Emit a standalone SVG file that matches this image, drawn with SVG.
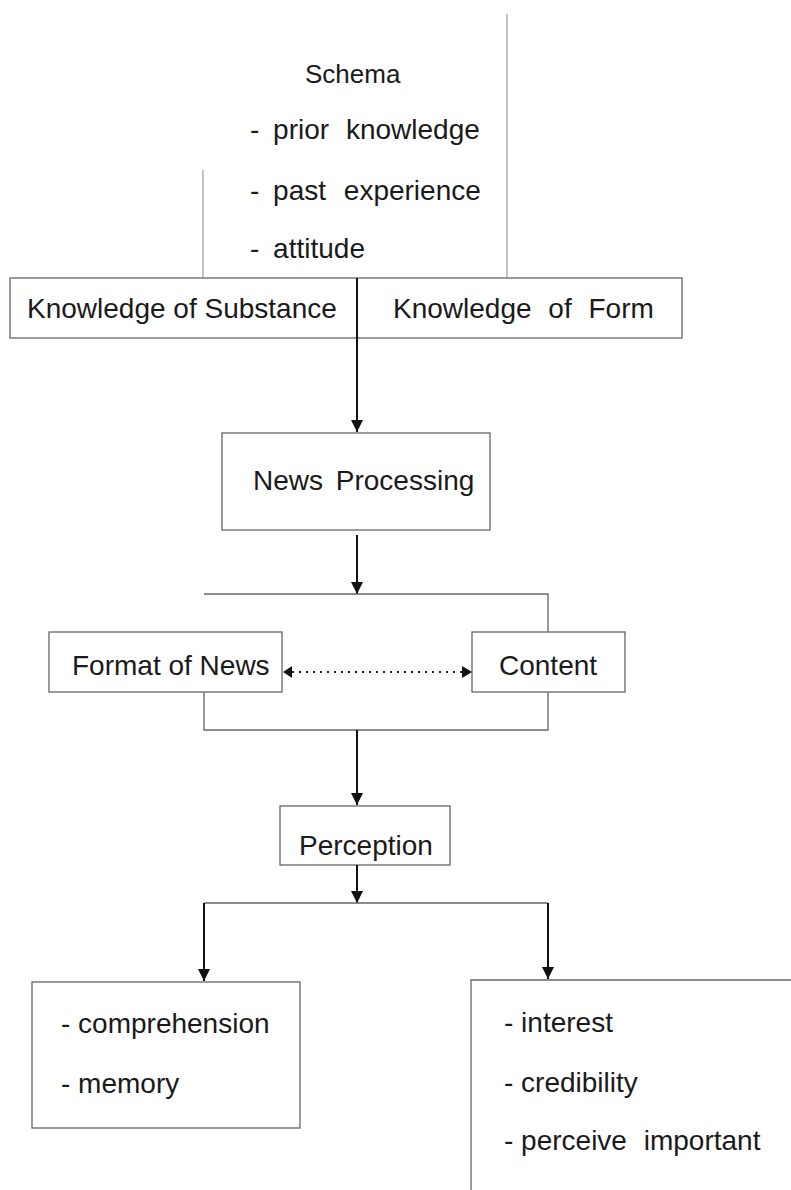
<svg xmlns="http://www.w3.org/2000/svg" width="791" height="1190" viewBox="0 0 791 1190">
<style>
text{font-family:"Liberation Sans",Arial,sans-serif;fill:#1a1a1a;font-size:28px;}
.box{fill:none;stroke:#666;stroke-width:1.3;}
.thin{fill:none;stroke:#888;stroke-width:1;}
.arr{fill:none;stroke:#111;stroke-width:2;}
.sch{font-size:26px;}
</style>
<defs>
<marker id="ah" viewBox="0 0 10 10" refX="10" refY="5" markerWidth="6" markerHeight="6" orient="auto" markerUnits="strokeWidth">
<path d="M0,0 L10,5 L0,10 Z" fill="#111"/>
</marker>
</defs>
<rect width="791" height="1190" fill="#fff"/>

<g id="schema">
<text class="sch" x="305" y="83">Schema</text>
<text x="250" y="139" word-spacing="6"><tspan>- prior</tspan><tspan dx="3"> knowledge</tspan></text>
<text x="250" y="200" word-spacing="6"><tspan>- past</tspan><tspan dx="4"> experience</tspan></text>
<text x="250" y="258" word-spacing="6">- attitude</text>
</g>

<g id="knowledge">
<rect class="box" x="10" y="278" width="672" height="60"/>
<text x="27" y="318">Knowledge of Substance</text>
<text x="393" y="318" word-spacing="9">Knowledge of Form</text>
</g>

<g id="news-processing">
<rect class="box" x="222" y="433" width="268" height="97"/>
<text x="253" y="490" word-spacing="5">News Processing</text>
</g>

<g id="format">
<rect class="box" x="49" y="632" width="233" height="60"/>
<text x="72" y="675">Format of News</text>
</g>

<g id="content">
<rect class="box" x="472" y="632" width="153" height="60"/>
<text x="499" y="675">Content</text>
</g>

<g id="perception">
<rect class="box" x="280" y="806" width="170" height="59"/>
<text x="299" y="855">Perception</text>
</g>

<g id="outcome-left">
<rect class="box" x="32" y="982" width="268" height="146"/>
<text x="61" y="1033">- comprehension</text>
<text x="61" y="1093">- memory</text>
</g>

<g id="outcome-right">
<path class="box" d="M471,1190 L471,980 L791,980"/>
<text x="504" y="1032">- interest</text>
<text x="504" y="1092">- credibility</text>
<text x="504" y="1150"><tspan>- perceive</tspan><tspan dx="9"> important</tspan></text>
</g>

<g id="connectors">
<line class="thin" x1="507" y1="14" x2="507" y2="278"/>
<line class="thin" x1="203" y1="170" x2="203" y2="278"/>
<line class="arr" x1="357" y1="278" x2="357" y2="338"/>
<line class="arr" x1="357" y1="338" x2="357" y2="432" marker-end="url(#ah)"/>
<line class="arr" x1="357" y1="535" x2="357" y2="594" marker-end="url(#ah)"/>
<path class="box" d="M204,594 L548,594 L548,632"/>
<path class="box" d="M204,692 L204,730 L548,730 L548,692"/>
<line x1="292" y1="672" x2="462" y2="672" stroke="#222" stroke-width="2" stroke-dasharray="2,5"/>
<path d="M292,666 L283,672 L292,678 Z" fill="#111"/>
<path d="M462,666 L472,672 L462,678 Z" fill="#111"/>
<line class="arr" x1="357" y1="730" x2="357" y2="805" marker-end="url(#ah)"/>
<line class="arr" x1="357" y1="865" x2="357" y2="903" marker-end="url(#ah)"/>
<line class="box" x1="204" y1="903" x2="548" y2="903"/>
<line class="arr" x1="204" y1="903" x2="204" y2="981" marker-end="url(#ah)"/>
<line class="arr" x1="548" y1="903" x2="548" y2="979" marker-end="url(#ah)"/>
</g>
</svg>
